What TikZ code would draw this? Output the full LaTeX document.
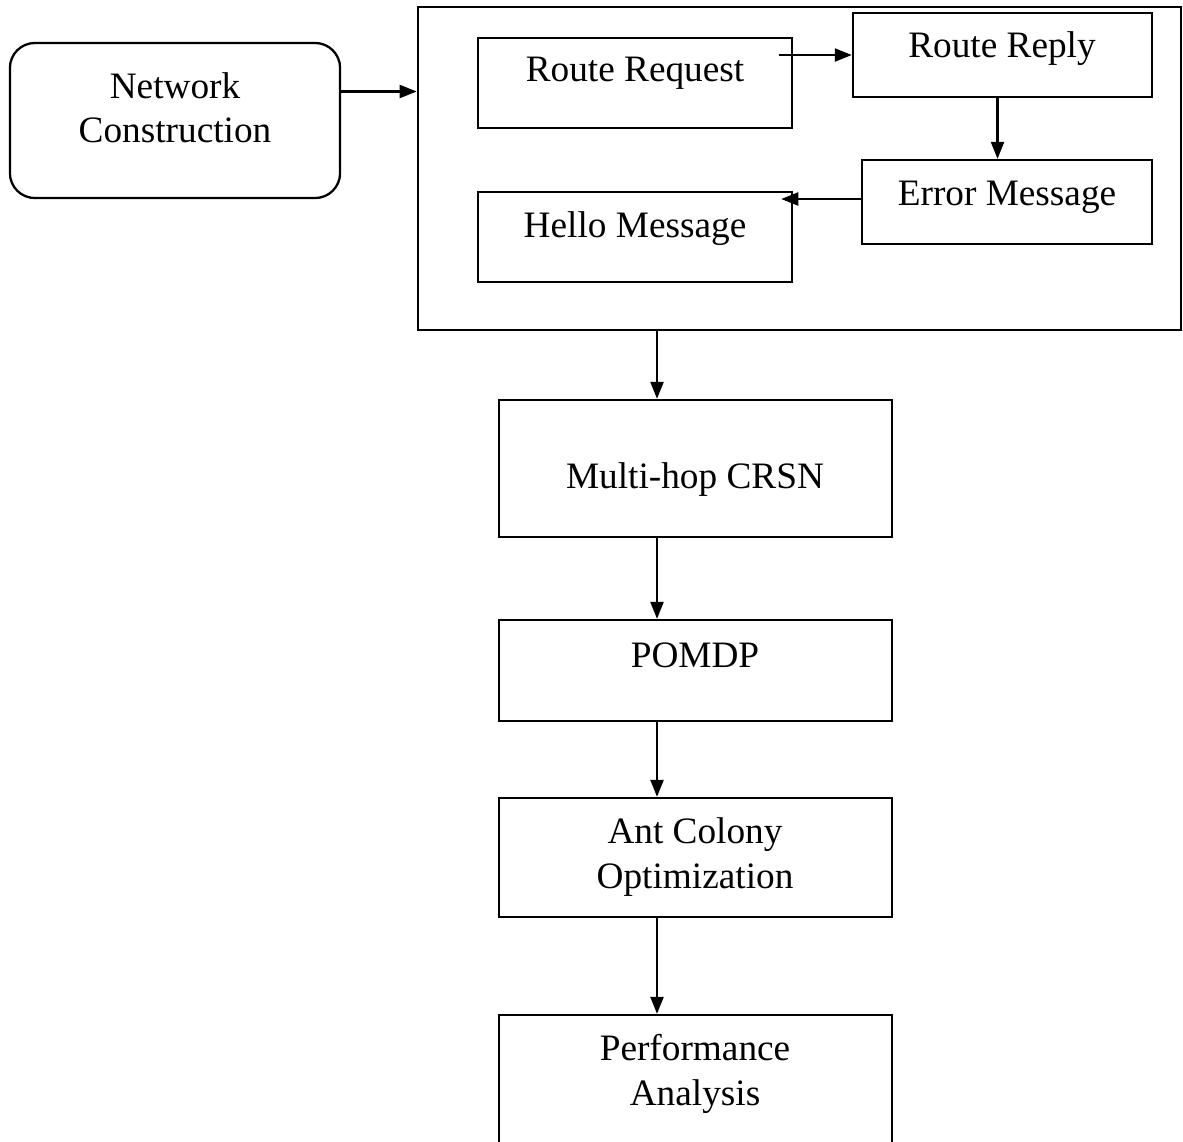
\documentclass[tikz,border=0pt]{standalone}
\usepackage{fontspec}
\setmainfont{Liberation Serif}
\usetikzlibrary{arrows.meta}
\usetikzlibrary{positioning}

\tikzset{
  box/.style={draw, line width=0.65pt, inner sep=0pt},
  txt/.style={align=center, inner sep=0pt, font=\fontsize{10.6}{12.6}\selectfont},
  arr/.style={line width=0.65pt, -{Triangle[length=0.17cm, width=0.13cm]}}
}

\begin{document}
\begin{tikzpicture}[x=0.01cm, y=-0.01cm]
            \useasboundingbox (0,0) rectangle (1183,1141);
            % left block and the grouped message boxes
            \node[box, rounded corners=0.25cm, minimum width=3.3cm, minimum height=1.55cm] (net) at (175,120.5) {};
            \node[txt] (nettxt) at (175,108) {Network\\Construction};
            \node[box, minimum width=7.63cm, minimum height=3.23cm] (outer) at (799.5,168.5) {};
            \node[box, minimum width=3.14cm, minimum height=0.9cm] (req) at (635,83) {};
            \node[txt] (reqtxt) at (635,73) {Route Request};
            \node[box, minimum width=2.99cm, minimum height=0.84cm] (rep) at (1002.5,55) {};
            \node[txt] (reptxt) at (1002,49) {Route Reply};
            \node[box, minimum width=2.9cm, minimum height=0.84cm] (err) at (1007,202) {};
            \node[txt] (errtxt) at (1007,197) {Error Message};
            \node[box, minimum width=3.14cm, minimum height=0.9cm] (hel) at (635,237) {};
            \node[txt] (heltxt) at (635,229) {Hello Message};
            % main chain
            \node[box, minimum width=3.93cm, minimum height=1.37cm] (crsn) at (695.5,468.5) {};
            \node[txt] (crsntxt) at (695,480) {Multi-hop CRSN};
            \node[box, minimum width=3.93cm, minimum height=1.01cm] (pomdp) at (695.5,670.5) {};
            \node[txt] (pomdptxt) at (695,655) {POMDP};
            \node[box, minimum width=3.93cm, minimum height=1.19cm] (aco) at (695.5,857.5) {};
            \node[txt] (acotxt) at (695,857) {Ant Colony\\Optimization};
            \node[box, minimum width=3.93cm, minimum height=1.5cm] (perf) at (695.5,1090) {};
            \node[txt] (perftxt) at (695,1074) {Performance\\Analysis};
            \coordinate (spine) at (657,0);
            % connectors
            \draw[arr] ([yshift=0.29cm]net.east) -- ([yshift=0.29cm]net.east -| outer.west);
            \draw[arr] ([xshift=-0.14cm]req.east |- rep.west) -- (rep.west);
            \draw[arr] ([xshift=-0.05cm]rep.south) -- ([xshift=-0.05cm]rep.south |- err.north);
            \draw[arr] ([yshift=0.03cm]err.west) -- ([xshift=-0.12cm,yshift=0.03cm]hel.east |- err.west);
            \draw[arr] (spine |- outer.south) -- (spine |- crsn.north);
            \draw[arr] (spine |- crsn.south) -- (spine |- pomdp.north);
            \draw[arr] (spine |- pomdp.south) -- (spine |- aco.north);
            \draw[arr] (spine |- aco.south) -- (spine |- perf.north);
        \end{tikzpicture}
\end{document}
